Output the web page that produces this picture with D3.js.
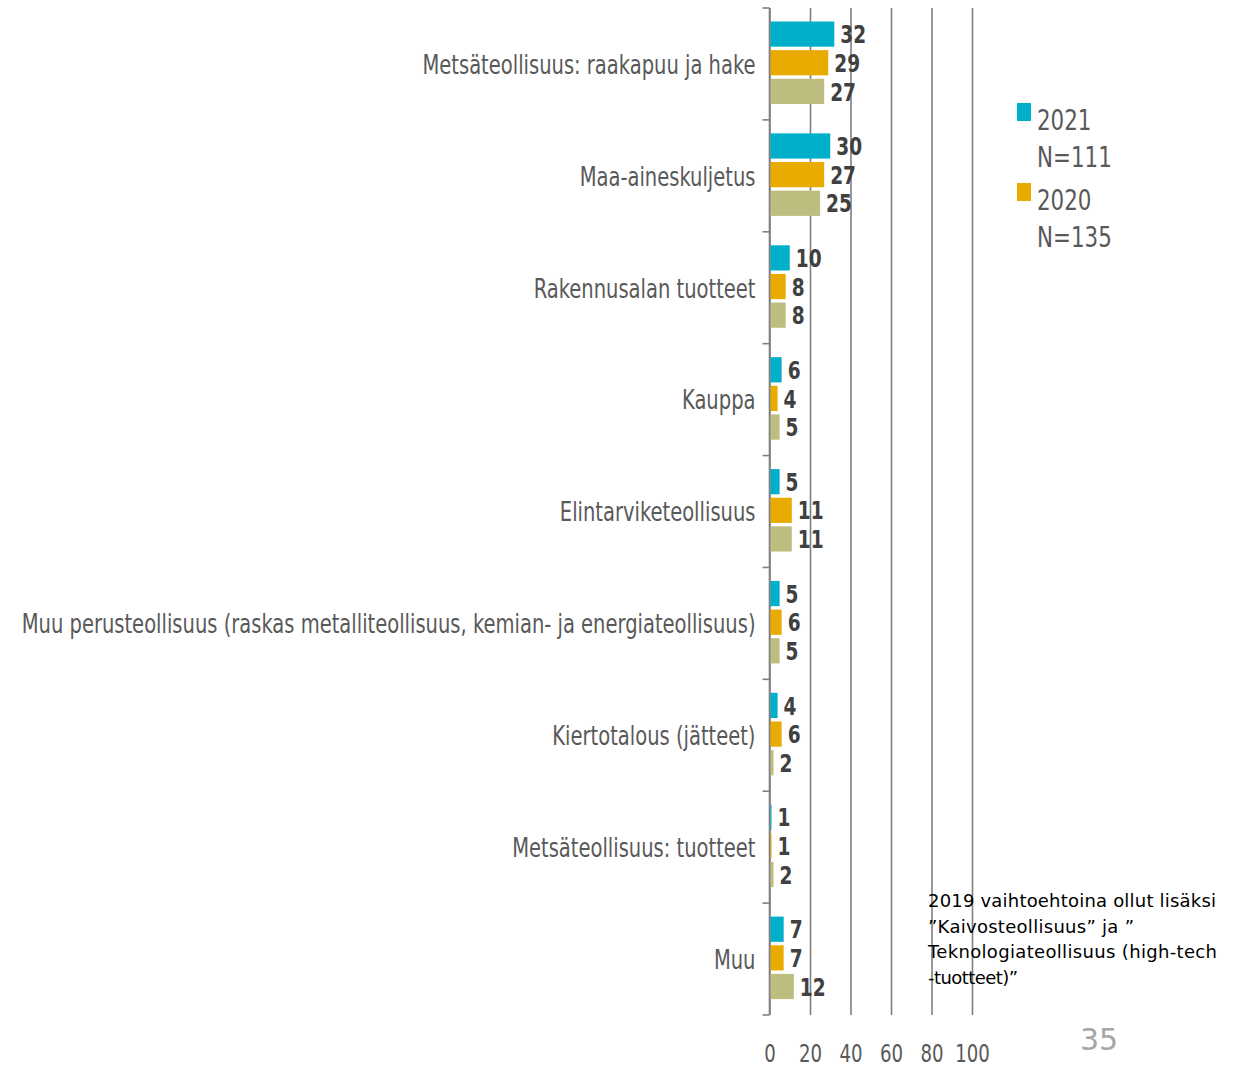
<!DOCTYPE html>
<html>
<head>
<meta charset="utf-8">
<script src="https://cdn.jsdelivr.net/npm/d3@7"></script>
<style>
  body { margin: 0; background: #fff; }
  svg { display: block; }
</style>
</head>
<body>
<div id="chart"></div>
<script>
// --- data ---
var categories = [
  "Metsäteollisuus: raakapuu ja hake",
  "Maa-aineskuljetus",
  "Rakennusalan tuotteet",
  "Kauppa",
  "Elintarviketeollisuus",
  "Muu perusteollisuus (raskas metalliteollisuus, kemian- ja energiateollisuus)",
  "Kiertotalous (jätteet)",
  "Metsäteollisuus: tuotteet",
  "Muu"
];
var values2021 = [32, 30, 10, 6, 5, 5, 4, 1, 7];
var values2020 = [29, 27, 8, 4, 11, 6, 6, 1, 7];
var values2019 = [27, 25, 8, 5, 11, 5, 2, 2, 12];
var seriesNames = ["2021", "2020", "2019"];
var seriesColors = ["#00b0ca", "#eaab00", "#bdbd80"];
var legendLines = [["2021", "N=111"], ["2020", "N=135"]];
var xTicks = [0, 20, 40, 60, 80, 100];
var noteLines = [
  "2019 vaihtoehtoina ollut lisäksi",
  "”Kaivosteollisuus” ja ”",
  "Teknologiateollisuus (high-tech",
  "-tuotteet)”"
];
var pageNumber = "35";

var W = 1253, H = 1068;
var svg = d3.select("#chart").append("svg")
  .attr("width", W).attr("height", H);

var x0 = 769.5, plotTop = 8, plotBottom = 1015;
var xScale = d3.scaleLinear().domain([0, 100]).range([x0, x0 + 202.5]);
var yScale = d3.scaleBand().domain(categories).range([plotTop, plotBottom]);
var ySub = d3.scaleBand().domain(seriesNames).range([13.5, 96]).paddingInner(0.12);

// squeeze a text horizontally around its own x (narrow face of the original)
function squeeze(sel, k) {
  sel.each(function () {
    var el = d3.select(this);
    var xx = +el.attr("x");
    el.attr("transform", "translate(" + xx + ",0) scale(" + k + ",1) translate(" + (-xx) + ",0)");
  });
}

// --- gridlines + tick labels ---
var xAxis = svg.append("g")
  .attr("transform", "translate(0," + plotBottom + ")")
  .call(d3.axisBottom(xScale).tickValues(xTicks).tickSize(-(plotBottom - plotTop)).tickPadding(30));
xAxis.select(".domain").remove();
xAxis.selectAll(".tick line").attr("stroke", "#7f7f7f").attr("stroke-width", 1.6);
xAxis.selectAll(".tick text")
  .attr("fill", "#595959")
  .attr("font-family", "'DejaVu Sans Condensed', 'DejaVu Sans', sans-serif")
  .attr("font-size", "24px")
  .attr("transform", "scale(0.84,1)");

// --- left axis with ticks between categories ---
var bounds = categories.map(function (c) { return yScale(c); }).concat([plotBottom]);
svg.append("line")
  .attr("x1", x0).attr("x2", x0).attr("y1", plotTop).attr("y2", plotBottom)
  .attr("stroke", "#7f7f7f").attr("stroke-width", 1.6);
svg.selectAll(".ytick").data(bounds).enter().append("line")
  .attr("class", "ytick")
  .attr("x1", x0 - 7).attr("x2", x0)
  .attr("y1", function (d) { return d; }).attr("y2", function (d) { return d; })
  .attr("stroke", "#7f7f7f").attr("stroke-width", 1.6);

// --- category labels ---
svg.selectAll(".cat").data(categories).enter().append("text")
  .attr("class", "cat")
  .attr("x", x0 - 14)
  .attr("y", function (d) { return yScale(d) + yScale.bandwidth() / 2; })
  .attr("dy", "0.38em")
  .attr("text-anchor", "end")
  .attr("fill", "#595959")
  .attr("font-family", "'DejaVu Sans Condensed', 'DejaVu Sans', sans-serif")
  .attr("font-size", "26px")
  .text(function (d) { return d; })
  .call(squeeze, 0.835);

// --- bars ---
var rows = [];
categories.forEach(function (c, i) {
  [values2021, values2020, values2019].forEach(function (arr, j) {
    rows.push({ cat: c, series: seriesNames[j], value: arr[i], color: seriesColors[j] });
  });
});

svg.selectAll(".bar").data(rows).enter().append("rect")
  .attr("class", "bar")
  .attr("x", x0 + 1)
  .attr("y", function (d) { return yScale(d.cat) + ySub(d.series); })
  .attr("width", function (d) { return xScale(d.value) - x0 - 1; })
  .attr("height", ySub.bandwidth())
  .attr("fill", function (d) { return d.color; });

svg.selectAll(".val").data(rows).enter().append("text")
  .attr("class", "val")
  .attr("x", function (d) { return xScale(d.value) + 6; })
  .attr("y", function (d) { return yScale(d.cat) + ySub(d.series) + ySub.bandwidth() / 2; })
  .attr("dy", "0.38em")
  .attr("fill", "#404040")
  .attr("font-family", "'DejaVu Sans Condensed', 'DejaVu Sans', sans-serif")
  .attr("font-weight", "bold")
  .attr("font-size", "24px")
  .text(function (d) { return d.value; })
  .call(squeeze, 0.86);

// --- legend ---
var legend = svg.append("g").attr("transform", "translate(1017,103)");
legendLines.forEach(function (lines, i) {
  var g = legend.append("g").attr("transform", "translate(0," + i * 80 + ")");
  g.append("rect").attr("width", 14).attr("height", 18).attr("fill", seriesColors[i]);
  g.selectAll("text").data(lines).enter().append("text")
    .attr("x", 20).attr("y", function (t, k) { return 27 + k * 37; })
    .attr("fill", "#595959")
    .attr("font-family", "'DejaVu Sans Condensed', 'DejaVu Sans', sans-serif")
    .attr("font-size", "28px")
    .text(function (t) { return t; })
    .call(squeeze, 0.85);
});

// --- note ---
svg.selectAll(".note").data(noteLines).enter().append("text")
  .attr("class", "note")
  .attr("x", 928)
  .attr("y", function (d, i) { return 907 + i * 25.5; })
  .attr("fill", "#000")
  .attr("font-family", "'DejaVu Sans', sans-serif")
  .attr("font-size", "18px")
  .attr("textLength", function (d, i) { return [288, 206, 289, 90][i]; })
  .text(function (d) { return d; });

// --- page number ---
svg.append("text")
  .attr("x", 1080).attr("y", 1050)
  .attr("fill", "#a6a6a6")
  .attr("font-family", "'DejaVu Sans', sans-serif")
  .attr("font-size", "30px")
  .text(pageNumber);
</script>
</body>
</html>
